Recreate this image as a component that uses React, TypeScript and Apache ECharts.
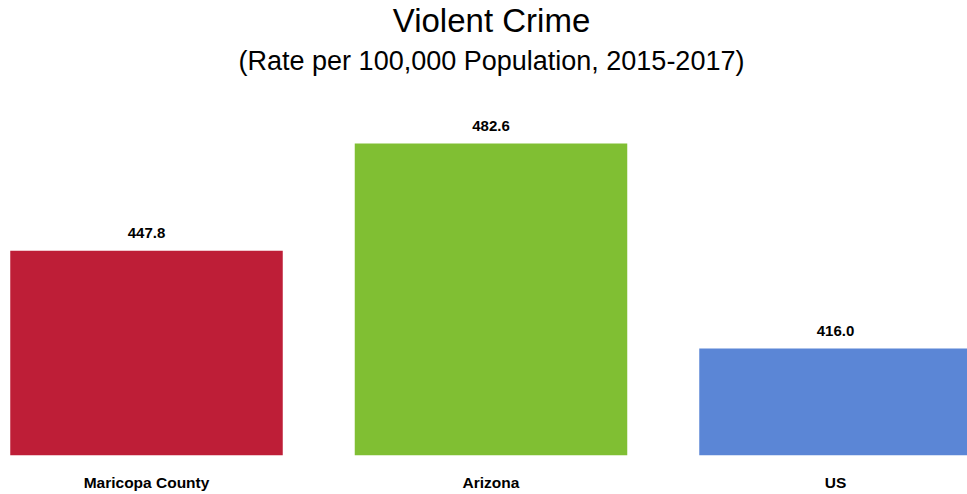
import React, { useEffect, useRef } from "react";
import * as echarts from "echarts";

const categories = ["Maricopa County", "Arizona", "US"];
const values = [447.8, 482.6, 416.0];
const barColors = ["#BE1E37", "#80BF33", "#5B86D6"];
const titleText = "Violent Crime";
const subtitleText = "(Rate per 100,000 Population, 2015-2017)";

export default function App() {
  const ref = useRef<HTMLDivElement>(null);
  useEffect(() => {
    if (!ref.current) return;
    const chart = echarts.init(ref.current, undefined, { renderer: "svg" });
    const font = "'Liberation Sans', Arial, sans-serif";
    chart.setOption({
      animation: false,
      backgroundColor: "#ffffff",
      title: [
        {
          text: titleText,
          left: 491.5,
          top: 3.8,
          padding: 0,
          textAlign: "center",
          textStyle: { fontFamily: font, fontSize: 33, fontWeight: "normal", color: "#000000" },
        },
        {
          text: subtitleText,
          left: 491.5,
          top: 47.6,
          padding: 0,
          textAlign: "center",
          textStyle: { fontFamily: font, fontSize: 27, fontWeight: "normal", color: "#000000" },
        },
      ],
      grid: {
        left: -25.75,
        right: -40.75,
        top: 90,
        bottom: 38.7,
        containLabel: false,
        outerBoundsMode: "none",
      },
      xAxis: {
        type: "category",
        data: categories,
        axisLine: { show: false },
        axisTick: { show: false },
        axisLabel: {
          margin: 19,
          fontFamily: font,
          fontSize: 15.5,
          fontWeight: "bold",
          color: "#000000",
          interval: 0,
        },
      },
      yAxis: {
        type: "value",
        min: 381.3,
        max: 500,
        show: false,
        splitLine: { show: false },
      },
      series: [
        {
          type: "bar",
          barWidth: 272.5,
          data: values.map((v, i) => ({ value: v, itemStyle: { color: barColors[i] } })),
          label: {
            show: true,
            position: "top",
            distance: 11,
            fontFamily: font,
            fontSize: 15,
            fontWeight: "bold",
            color: "#000000",
            formatter: (p: any) => Number(p.value).toFixed(1),
          },
        },
      ],
    });
    return () => chart.dispose();
  }, []);
  return (
    <div
      ref={ref}
      style={{ position: "fixed", left: 0, top: 0, width: 967, height: 494 }}
    />
  );
}
